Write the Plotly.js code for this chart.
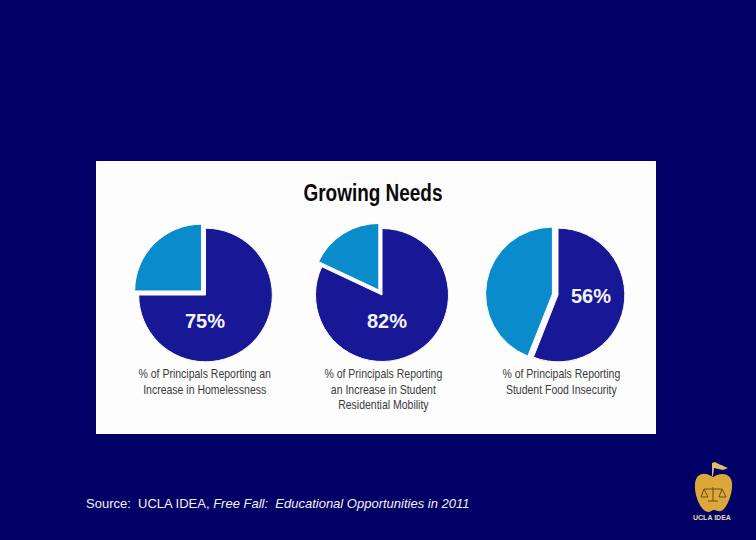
<!DOCTYPE html>
<html><head><meta charset="utf-8">
<script src="https://cdn.plot.ly/plotly-3.0.1.min.js"></script>
<style>html,body{margin:0;padding:0;background:#000066;overflow:hidden}</style>
</head><body><div id="c" style="width:756px;height:540px"></div>
<script>
const chartTitle = "Growing Needs";
const sliceNames = ["Reporting", "Not reporting"];
const percents = [75, 82, 56];
const remainders = [25, 18, 44];
const captions = [
  "% of Principals Reporting an<br>Increase in Homelessness",
  "% of Principals Reporting<br>an Increase in Student<br>Residential Mobility",
  "% of Principals Reporting<br>Student Food Insecurity"
];
const sourceText = "Source:  UCLA IDEA, <i>Free Fall:  Educational Opportunities in 2011</i>";
const logoText = "UCLA IDEA";

const W = 756, H = 540, SANS = '"Liberation Sans",Arial,sans-serif';
const px = x => x/W, py = y => 1-y/H;
const centers = [[205.5,295],[382,295],[558,295]];
const labelPos = [[205,321],[387,321],[591,296]];
const captionPos = [[204,382],[383,389],[561,382]];
const pulls = [0.085,0.09,0.085];
const R = 72.5;

const traces = percents.map((p,i)=>({
  type:'pie', values:[p,remainders[i]], labels:sliceNames, sort:false, direction:'clockwise', rotation:0,
  pull:[0,pulls[i]], textinfo:'none', hoverinfo:'label+percent', showlegend:false,
  marker:{colors:['#181896','#0a8ccc'],line:{color:'#fdfdfd',width:1}},
  domain:{x:[px(centers[i][0]-R),px(centers[i][0]+R)],y:[py(centers[i][1]+R),py(centers[i][1]-R)]}
}));

const ann = [];
const A = (x,y,o)=>ann.push(Object.assign({xref:'paper',yref:'paper',x:px(x),y:py(y),showarrow:false,xanchor:'center',yanchor:'middle'},o));
percents.forEach((p,i)=>{
  A(labelPos[i][0],labelPos[i][1],{text:'<b>'+p+'%</b>',font:{family:SANS,size:20,color:'#f4f4fa'}});
  A(captionPos[i][0],captionPos[i][1],{text:captions[i],align:'center',font:{family:SANS,size:12,color:'#3a3a3a'}});
});
A(84,503,{xanchor:'left',text:sourceText,font:{family:SANS,size:13,color:'#f2f2f2'}});
A(712,517,{text:'<b>'+logoText+'</b>',font:{family:SANS,size:7,color:'#f0dca8'}});

const gold='#dca83a';
// path helper: pixel pairs to paper fractions
const P = s => s.replace(/(-?[\d.]+) (-?[\d.]+)/g,(m,a,b)=>px(+a).toFixed(5)+','+py(+b).toFixed(5));
const S = (path,o)=>Object.assign({type:'path',xref:'paper',yref:'paper',path:P(path),layer:'above',line:{width:0}},o);
const shapes=[
 {type:'rect',xref:'paper',yref:'paper',x0:px(96),x1:px(656),y0:py(434),y1:py(161),fillcolor:'#fdfdfd',line:{width:0},layer:'below'},
 S('M713 477 C704 471 696 473 695 484 C694 494 700 511 708 512 C711 512 712 510 714 510 C717 510 718 512 721 511 C727 509 733 493 732 483 C731 473 721 472 713 477 Z',{fillcolor:gold}),
 S('M712 476 L712 463 L715 462 C720 465 724 466 728 468 L723 470 L714 468 L713 476 Z',{fillcolor:'#e3bc66'}),
 S('M713 487 L713 501 M708 501 L718 501 M704 489 L722 489 M704 489 L701 497 L708 497 Z M722 489 L719 497 L726 497 Z',{line:{color:'#6b4a1c',width:1}})
];

const squeeze = ()=>{
  const gd=document.getElementById('c');
  const squeezeNode=(t,sx)=>{
    const b=t.getBBox(), cx=b.x+b.width/2;
    t.setAttribute('transform',`translate(${cx},0) scale(${sx},1) translate(${-cx},0)`);
  };
  const title=gd.querySelector('.gtitle');
  if(title) squeezeNode(title,0.79);
  gd.querySelectorAll('.annotation-text').forEach(t=>{
    if(t.textContent.startsWith('% of')) squeezeNode(t,0.875);
  });
};

Plotly.newPlot('c',traces,{
  width:W,height:H,margin:{l:0,r:0,t:0,b:0},paper_bgcolor:'#000066',plot_bgcolor:'rgba(0,0,0,0)',
  title:{text:'<b>'+chartTitle+'</b>',x:px(373),xanchor:'center',y:py(193),yanchor:'middle',font:{family:SANS,size:24,color:'#0a0a0a'}},
  shapes:shapes,annotations:ann
},{displayModeBar:false,staticPlot:true}).then(squeeze);
</script></body></html>
